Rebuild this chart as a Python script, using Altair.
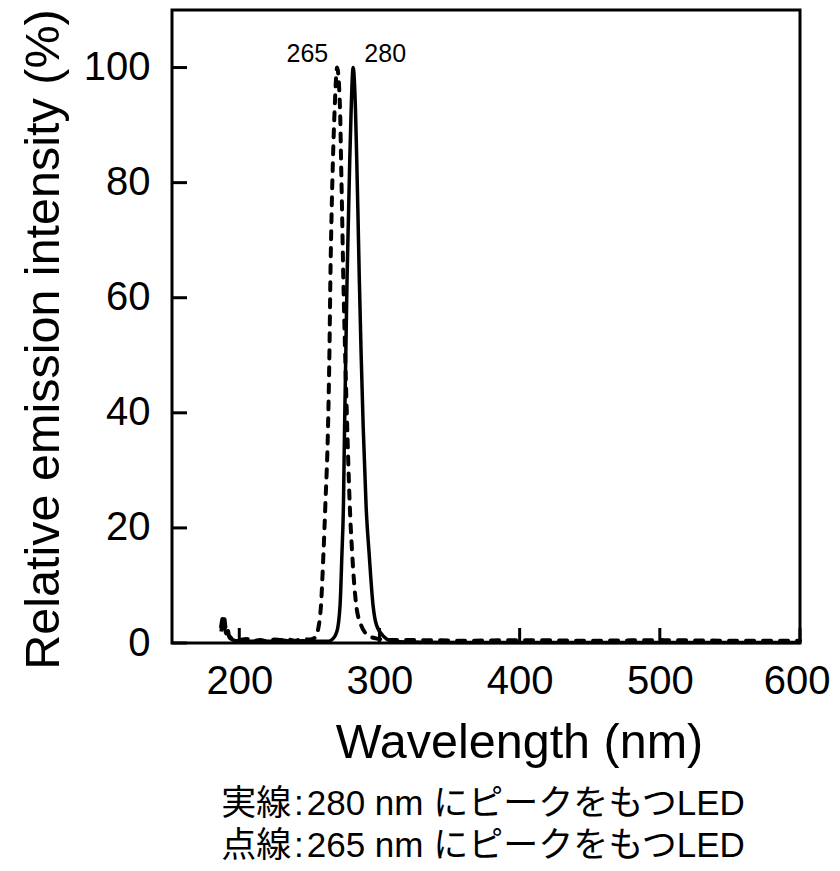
import altair as alt
import pandas as pd

# ---- data ----
solid_wl = [187.0, 188.5, 189.5, 190.5, 191.5, 193, 195, 198, 202, 208, 215, 222, 230, 238, 245, 252, 258, 263,
            265.7, 269.5, 271.9, 273.2, 274.3, 275.1, 276.0, 276.9, 278.0, 278.8, 279.8, 281.2,
            282.9, 283.8, 284.6, 285.6, 286.9, 288.4, 290.5, 292.7, 295.4, 297.9, 303.6, 307.9,
            315, 330, 360, 400, 450, 500, 550, 600]
solid_val = [2.0, 3.4, 2.6, 1.6, 1.9, 0.9, 0.6, 0.4, 0.5, 0.3, 0.4, 0.3, 0.5, 0.3, 0.4, 0.3, 0.3, 0.3,
             0.5, 1.9, 6.6, 15.3, 24.0, 37.5, 50.4, 63.5, 75.2, 83.9, 92.6, 100,
             92.6, 83.9, 75.2, 63.5, 50.4, 37.5, 23.6, 15.3, 6.6, 3.1, 1.0, 0.35,
             0.2, 0.15, 0.1, 0.1, 0.1, 0.1, 0.1, 0.1]

dashed_wl = [187.0, 188.0, 189.0, 189.8, 190.5, 191.5, 192.5, 194, 196, 200, 205, 210, 215, 220, 225, 230, 235,
             240, 245, 250, 253.9, 256.4, 258.3, 260.0, 261.4, 263.3, 264.3, 265.0, 265.9, 266.8, 268.0,
             269.8, 271.9, 272.6, 273.3, 274.2, 275.5, 277.0, 278.8, 280.6, 283.4, 286.9, 292.1, 297.5,
             303, 310, 330, 360, 400, 450, 500, 550, 600]
dashed_val = [2.8, 4.2, 4.9, 3.4, 2.2, 2.6, 1.4, 0.9, 0.6, 0.5, 0.7, 0.4, 0.5, 0.3, 0.6, 0.5, 0.6,
              0.4, 0.7, 0.6, 0.9, 2.6, 6.6, 15.3, 24.0, 37.5, 50.4, 63.5, 75.2, 83.9, 92.6,
              100, 92.6, 83.9, 75.2, 63.5, 50.4, 37.5, 24.0, 15.3, 6.6, 3.1, 1.3, 0.8,
              0.6, 0.5, 0.5, 0.4, 0.5, 0.4, 0.5, 0.4, 0.4]

x_ticks = [200, 300, 400, 500, 600]
y_ticks = [0, 20, 40, 60, 80, 100]

peak_labels = ["265", "280"]
peak_label_wl = [248.6, 304.1]
peak_label_val = [100.9, 100.9]

x_title = "Wavelength (nm)"
y_title = "Relative emission intensity (%)"
caption_lines = ["実線\u200a:\u200a280 nm にピークをもつLED", "点線\u200a:\u200a265 nm にピークをもつLED"]

FONT = "Liberation Sans, Arial, sans-serif"
CJK_FONT = "Liberation Sans, Noto Sans CJK JP, sans-serif"

xscale = alt.Scale(domain=[152, 600], nice=False, zero=False)
yscale = alt.Scale(domain=[0, 110], nice=False, zero=True)

solid_df = pd.DataFrame({"wl": solid_wl, "val": solid_val})
dashed_df = pd.DataFrame({"wl": dashed_wl, "val": dashed_val})

x_axis = alt.Axis(values=x_ticks, ticks=False, domain=False, grid=False, format="d",
                  labelFontSize=40, labelPadding=18, labelFlush=True, labelFlushOffset=30,
                  labelColor="black",
                  labelFont=FONT, title=x_title, titleFontSize=48.5, titleFont=FONT,
                  titleFontWeight="normal", titleColor="black", titleX=347, titleY=114,
                  titleBaseline="alphabetic", titleAlign="center")
y_axis = alt.Axis(values=y_ticks, ticks=False, domain=False, grid=False, format="d",
                  labelFontSize=40, labelPadding=22, labelColor="black", labelFont=FONT,
                  title=y_title, titleFontSize=48.5, titleFont=FONT, titleFontWeight="normal",
                  titleColor="black", titleX=-129, titleY=329, titleAngle=270,
                  titleBaseline="middle", titleAlign="center")


def X(field):
    return alt.X(field, scale=xscale, axis=x_axis, title=x_title)


def Y(field):
    return alt.Y(field, scale=yscale, axis=y_axis, title=y_title)


solid = alt.Chart(solid_df).mark_line(color="black", strokeWidth=3.5, interpolate="monotone").encode(
    x=X("wl:Q"), y=Y("val:Q"),
)

dashed = alt.Chart(dashed_df).mark_line(color="black", strokeWidth=4, interpolate="monotone",
                                        strokeDash=[8, 9], strokeCap="round").encode(
    x=X("wl:Q"), y=Y("val:Q"),
)

xt = alt.Chart(pd.DataFrame({"wl": x_ticks})).mark_rule(color="black", strokeWidth=3).encode(
    x=X("wl:Q"),
    y=alt.value(633), y2=alt.value(618),
)
yt = alt.Chart(pd.DataFrame({"val": y_ticks})).mark_rule(color="black", strokeWidth=3).encode(
    y=Y("val:Q"),
    x=alt.value(0), x2=alt.value(15),
)

peaks = alt.Chart(pd.DataFrame({"wl": peak_label_wl, "val": peak_label_val, "lab": peak_labels})).mark_text(
    font=FONT, fontSize=25, align="center", baseline="alphabetic", color="black"
).encode(
    x=X("wl:Q"), y=Y("val:Q"),
    text="lab:N",
)

cap1 = alt.Chart(pd.DataFrame({"t": [caption_lines[0]]})).mark_text(
    font=CJK_FONT, fontSize=35, align="center", baseline="middle", color="black"
).encode(x=alt.value(311), y=alt.value(794), text="t:N")
cap2 = alt.Chart(pd.DataFrame({"t": [caption_lines[1]]})).mark_text(
    font=CJK_FONT, fontSize=35, align="center", baseline="middle", color="black"
).encode(x=alt.value(311), y=alt.value(836), text="t:N")

chart = alt.layer(solid, dashed, xt, yt, peaks, cap1, cap2).properties(
    width=628, height=633,
    autosize=alt.AutoSizeParams(type="none"),
    padding={"left": 164, "top": 2, "right": 32, "bottom": 220},
    background="white",
).configure_view(stroke="black", strokeWidth=3)

chart.save("out.html", embed_options={"renderer": "svg", "actions": False})
